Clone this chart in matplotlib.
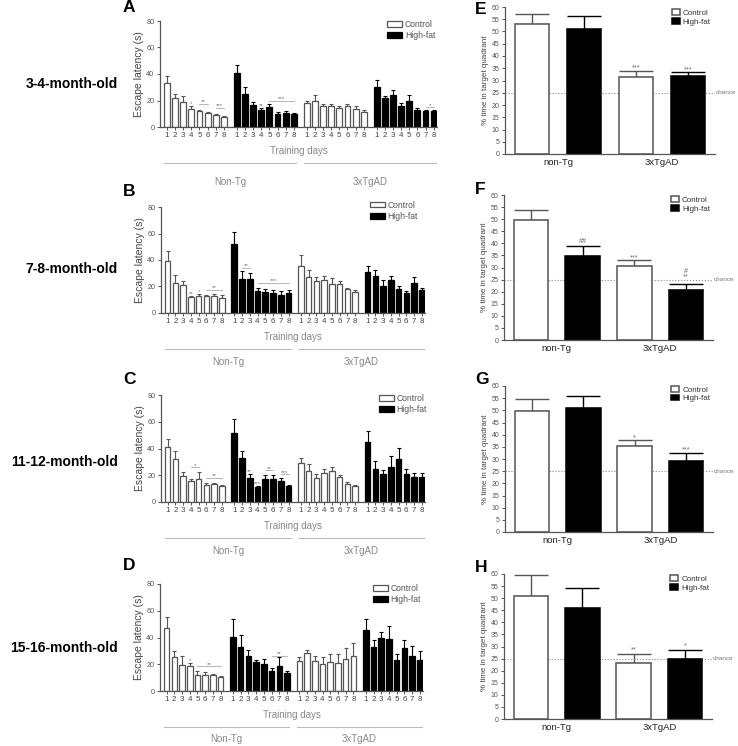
import numpy as np
import matplotlib.pyplot as plt

plt.rcParams['font.family'] = ['Liberation Sans', 'DejaVu Sans']

W, H = 738, 746

days = ['1', '2', '3', '4', '5', '6', '7', '8']
genotypes = ['Non-Tg', '3xTgAD']
probe_groups = ['non-Tg', '3xTgAD']
diets = ['Control', 'High-fat']
ages = ['3-4-month-old', '7-8-month-old', '11-12-month-old', '15-16-month-old']

# escape latency (s), rows: Non-Tg control, Non-Tg high-fat, 3xTgAD control, 3xTgAD high-fat
lat_a = [[33.2, 22.2, 19.2, 13.5, 12.0, 10.5, 9.2, 7.5],
         [40.5, 25.2, 16.8, 13.0, 15.2, 10.0, 10.5, 10.0],
         [17.8, 19.8, 16.0, 15.8, 14.0, 15.8, 13.5, 11.2],
         [30.0, 22.2, 24.2, 16.0, 20.0, 13.0, 11.8, 11.8]]
lat_a_sem = [[5.5, 3.0, 4.5, 2.7, 1.0, 0.7, 0.8, 1.0],
             [6.5, 4.8, 2.0, 1.5, 2.0, 1.2, 1.2, 0.8],
             [1.8, 4.0, 1.5, 1.8, 2.2, 1.8, 2.5, 1.8],
             [5.5, 1.5, 3.5, 2.2, 3.8, 1.0, 1.0, 1.0]]

lat_b = [[39.5, 23.0, 20.8, 11.8, 13.2, 12.8, 13.2, 11.5],
         [52.0, 25.8, 25.8, 16.5, 15.8, 15.2, 13.8, 15.0],
         [35.5, 27.2, 24.0, 25.0, 22.2, 21.8, 17.8, 15.5],
         [30.8, 28.2, 20.2, 24.8, 18.2, 15.2, 22.5, 17.5]]
lat_b_sem = [[7.5, 6.0, 3.7, 0.8, 1.5, 0.8, 0.8, 1.8],
             [9.0, 5.7, 4.2, 2.3, 2.0, 2.3, 2.7, 2.5],
             [8.2, 5.2, 3.0, 3.2, 4.2, 2.5, 1.0, 1.5],
             [4.5, 4.2, 4.8, 3.0, 2.0, 1.2, 5.0, 1.0]]

lat_c = [[40.8, 32.0, 19.8, 15.5, 17.2, 12.5, 13.2, 11.8],
         [51.4, 33.0, 18.2, 11.5, 17.2, 17.2, 16.0, 12.0],
         [29.2, 23.5, 18.0, 21.8, 23.0, 18.8, 13.8, 12.0],
         [44.8, 24.8, 20.8, 26.3, 32.0, 21.0, 18.8, 19.0]]
lat_c_sem = [[6.2, 5.8, 3.0, 2.0, 5.0, 1.5, 1.2, 1.2],
             [10.5, 5.0, 3.0, 0.8, 3.0, 3.2, 2.2, 1.0],
             [4.0, 5.2, 3.0, 3.2, 3.0, 1.5, 1.5, 1.0],
             [8.5, 5.5, 3.2, 8.3, 8.3, 4.0, 2.8, 2.8]]

lat_d = [[46.9, 25.5, 19.6, 18.6, 12.2, 12.2, 11.7, 10.2],
         [40.3, 33.1, 26.2, 21.4, 20.4, 15.0, 18.6, 13.2],
         [22.2, 28.5, 22.2, 20.1, 21.7, 20.9, 23.9, 26.2],
         [45.6, 32.6, 40.0, 39.2, 23.4, 32.1, 26.5, 23.4]]
lat_d_sem = [[8.4, 4.3, 6.4, 2.5, 2.5, 2.0, 1.0, 0.8],
             [13.5, 8.4, 4.1, 1.5, 3.8, 2.3, 6.9, 1.6],
             [3.3, 2.3, 4.3, 5.4, 5.8, 6.6, 8.5, 10.0],
             [7.9, 5.9, 4.3, 9.5, 4.1, 6.4, 7.1, 6.4]]

# significance marks: (group, first day, last day, y, text)
sig_a = [(0, 3, 3, 16.5, '*'), (0, 4, 5, 17.5, '**'), (0, 6, 7, 14.5, '***'),
         (1, 3, 3, 14.9, '**'), (1, 4, 7, 20.0, '***'), (3, 6, 7, 15.0, '*')]
sig_b = [(0, 3, 3, 13.4, '**'), (0, 4, 4, 15.4, '*'), (0, 5, 7, 17.5, '**'),
         (1, 1, 2, 34.0, '**'), (1, 3, 7, 23.0, '***')]
sig_c = [(0, 3, 4, 25.8, '*'), (0, 5, 7, 18.0, '**'), (1, 2, 2, 21.5, '**'),
         (1, 3, 3, 12.5, '***'), (1, 4, 5, 23.8, '**'), (1, 6, 7, 20.8, '***')]
sig_d = [(0, 3, 3, 21.4, '*'), (0, 4, 7, 18.6, '**'), (1, 5, 7, 26.2, '**')]

# probe trial, % time in target quadrant: Non-Tg ctrl, Non-Tg HF, 3xTgAD ctrl, 3xTgAD HF
probe_e = [53.1, 51.2, 31.5, 31.9]
probe_e_sem = [3.9, 5.0, 2.5, 1.4]
probe_f = [49.8, 34.8, 30.8, 20.8]
probe_f_sem = [3.9, 4.0, 2.3, 2.4]
probe_g = [49.8, 50.9, 35.5, 29.2]
probe_g_sem = [4.9, 5.0, 2.2, 3.4]
probe_h = [50.9, 45.8, 23.3, 25.0]
probe_h_sem = [8.7, 8.5, 3.7, 3.7]

# (bar, y, text)
probe_sig_e = [(2, 34.5, '***'), (3, 33.8, '***')]
probe_sig_f = [(1, 40.3, '##'), (2, 33.2, '***'), (3, 25.3, '**'), (3, 27.8, '#')]
probe_sig_g = [(2, 38.2, '*'), (3, 33.0, '***')]
probe_sig_h = [(2, 28.0, '**'), (3, 29.5, '*')]

GAP = 0.6
BAR_W = 0.72
GREY = '#555555'


def px_rect(l, t, r, b):
    return [l / W, 1 - b / H, (r - l) / W, (b - t) / H]


def latency_panel(ax, means, sems, marks, leg_xy, geno_y):
    ticks = []
    for g in range(4):
        x = g * (8 + GAP) + np.arange(8)
        ticks.extend(x)
        hf = g % 2 == 1
        edge = 'black' if hf else GREY
        ax.bar(x, means[g], BAR_W, color='black' if hf else 'white', edgecolor=edge,
               linewidth=0.9, label=diets[g] if g < 2 else None, zorder=2)
        ax.errorbar(x, means[g], yerr=[np.zeros(8), sems[g]], fmt='none', ecolor=edge,
                    elinewidth=0.8, capsize=1.4, capthick=0.8, zorder=1)

    for g, d0, d1, y, txt in marks:
        x0 = g * (8 + GAP) + d0
        x1 = g * (8 + GAP) + d1
        if d0 == d1:
            ax.text(x0, y, txt, ha='center', va='baseline', fontsize=4.5, color='#777777')
        else:
            ax.plot([x0, x1], [y, y], color='#aaaaaa', lw=0.6)
            ax.text((x0 + x1) / 2, y + 0.4, txt, ha='center', va='baseline',
                    fontsize=4.5, color='#777777')

    ax.set_xticks(ticks)
    ax.set_xticklabels(days * 4)
    ax.set_xlim(-0.85, 3 * (8 + GAP) + 7 + BAR_W / 2 + 0.05)
    ax.set_ylim(0, 80)
    ax.set_yticks([0, 20, 40, 60, 80])
    ax.tick_params(axis='x', labelsize=5.8, labelcolor='#444444', length=2, width=0.7,
                   color=GREY, pad=1.5)
    ax.tick_params(axis='y', labelsize=5.2, labelcolor='#555555', length=2.5, width=0.7,
                   color=GREY, pad=1.5)
    for s in ['top', 'right']:
        ax.spines[s].set_visible(False)
    for s in ['left', 'bottom']:
        ax.spines[s].set_color(GREY)
        ax.spines[s].set_linewidth(0.9)
    ax.set_ylabel('Escape latency (s)', fontsize=7.5, color='#444444', labelpad=2)
    ax.set_xlabel('Training days', fontsize=7, color='#888888', labelpad=5)

    trans = ax.get_xaxis_transform()
    for i, name in enumerate(genotypes):
        start = 2 * i * (8 + GAP) - 0.3
        end = (2 * i + 1) * (8 + GAP) + 7 + 0.3
        ax.plot([start, end], [-0.34, -0.34], transform=trans, color='#bbbbbb',
                lw=0.8, clip_on=False)
        ax.text((start + end) / 2, geno_y, name, transform=trans, ha='center',
                va='center', fontsize=7, color='#888888')

    ax.legend(loc='upper left', bbox_to_anchor=leg_xy, frameon=False, fontsize=6.2,
              borderaxespad=0, borderpad=0, handlelength=1.75, handleheight=0.65,
              handletextpad=0.3, labelspacing=0.25, labelcolor='#555555')


def probe_panel(ax, means, sems, marks, leg_xy):
    x = np.arange(4)
    means = np.array(means)
    sems = np.array(sems)
    ax.axhline(25, color='#888888', ls=':', lw=0.8, zorder=0)
    ax.text(1.005, 25, 'chance', transform=ax.get_yaxis_transform(), fontsize=4.6,
            color='#777777', va='center', clip_on=False)
    for k in range(2):
        edge = GREY if k == 0 else 'black'
        ax.bar(x[k::2], means[k::2], 0.67, color='white' if k == 0 else 'black',
               edgecolor=edge, linewidth=1.1, label=diets[k], zorder=2)
        ax.errorbar(x[k::2], means[k::2], yerr=[np.zeros(2), sems[k::2]], fmt='none',
                    ecolor=edge, elinewidth=1.0, capsize=12, capthick=1.0, zorder=1)
    for b, y, txt in marks:
        ax.text(x[b], y, txt, ha='center', va='baseline', fontsize=5.2, color='#666666')

    ax.set_xlim(-0.52, 3.52)
    ax.set_ylim(0, 60)
    ax.set_yticks(np.arange(0, 61, 5))
    ax.set_xticks([0.5, 2.5])
    ax.set_xticklabels(probe_groups)
    ax.tick_params(axis='x', length=0, pad=3, labelsize=6.8, labelcolor='#222222')
    ax.tick_params(axis='y', labelsize=5, labelcolor='#555555', length=2.5, width=0.7,
                   color=GREY, pad=1.5)
    for s in ['top', 'right']:
        ax.spines[s].set_visible(False)
    for s in ['left', 'bottom']:
        ax.spines[s].set_color(GREY)
        ax.spines[s].set_linewidth(0.9)
    ax.set_ylabel('% time in target quadrant', fontsize=5.8, color='#444444', labelpad=2)
    ax.legend(loc='upper left', bbox_to_anchor=leg_xy, frameon=False, fontsize=5.8,
              borderaxespad=0, borderpad=0, handlelength=1.0, handleheight=0.7,
              handletextpad=0.35, labelspacing=0.15, labelcolor='#333333')


fig = plt.figure(figsize=(W / 100, H / 100), dpi=100)

left_boxes = [(160, 21, 437, 127), (161, 207, 425, 313), (161, 395, 425, 502), (160, 584, 423, 691)]
left_legs = [(0.82, 1.01), (0.79, 1.06), (0.826, 1.01), (0.81, 1.0)]
geno_ys = [-0.52, -0.46, -0.46, -0.45]
right_boxes = [(505, 7, 715, 154), (504, 195, 713, 340), (505, 386, 713, 532), (504, 574, 712, 719)]
right_legs = [(0.795, 0.986), (0.80, 0.993), (0.80, 1.0), (0.80, 0.993)]

lat_means = [lat_a, lat_b, lat_c, lat_d]
lat_sems = [lat_a_sem, lat_b_sem, lat_c_sem, lat_d_sem]
lat_sigs = [sig_a, sig_b, sig_c, sig_d]
probe_means = [probe_e, probe_f, probe_g, probe_h]
probe_sems = [probe_e_sem, probe_f_sem, probe_g_sem, probe_h_sem]
probe_sigs = [probe_sig_e, probe_sig_f, probe_sig_g, probe_sig_h]

for i in range(4):
    ax = fig.add_axes(px_rect(*left_boxes[i]))
    latency_panel(ax, lat_means[i], lat_sems[i], lat_sigs[i], left_legs[i], geno_ys[i])
    ax2 = fig.add_axes(px_rect(*right_boxes[i]))
    probe_panel(ax2, probe_means[i], probe_sems[i], probe_sigs[i], right_legs[i])

letter_pos = [(123, 8, 'A'), (123, 192, 'B'), (123, 379, 'C'), (123, 566, 'D'),
              (475, 9, 'E'), (475, 190, 'F'), (475, 380, 'G'), (475, 567, 'H')]
for x, y, s in letter_pos:
    fig.text(x / W, 1 - y / H, s, fontsize=12.5, fontweight='bold', va='center', ha='left')

age_y = [84, 269, 462, 648]
for y, s in zip(age_y, ages):
    fig.text(118 / W, 1 - y / H, s, fontsize=10, fontweight='bold', va='center', ha='right')

fig.savefig('out.png', dpi=100)
